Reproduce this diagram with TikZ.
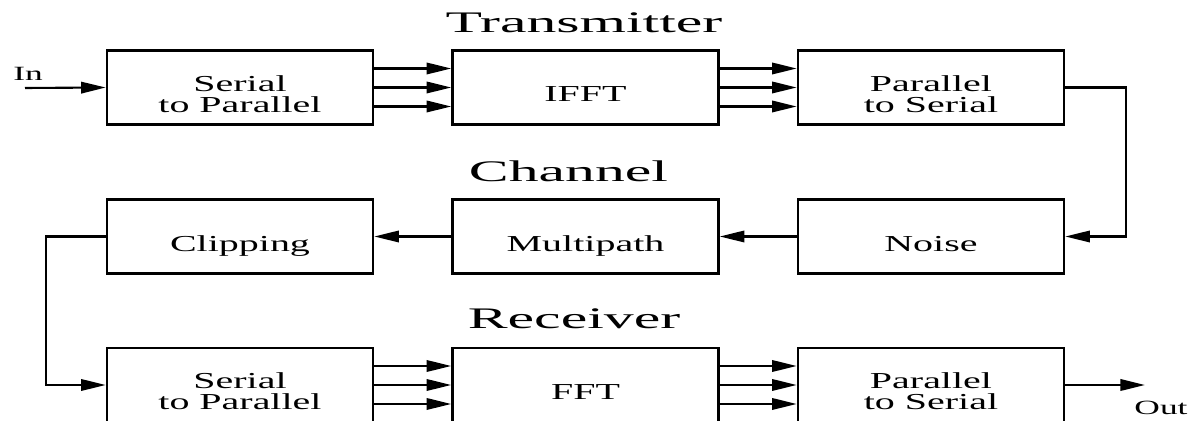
\documentclass[tikz,border=0pt]{standalone}
\usepackage{fontspec}
\setmainfont{Liberation Serif}[FakeStretch=1.75]
\newfontfamily\headfont{Liberation Serif}[FakeStretch=2.0]
\usetikzlibrary{arrows.meta}

\begin{document}
\begin{tikzpicture}[
  x=0.02cm, y=-0.02cm,
  block/.style={rectangle, draw, line width=1.5pt, minimum width=5.32cm, minimum height=1.48cm},
  blocktext/.style={align=center, text depth=0pt, inner sep=0pt, font=\fontsize{13}{12}\selectfont},
  wire/.style={-{Triangle[length=14pt, width=6.5pt]}, line width=1.2pt},
  title/.style={anchor=base, inner sep=0pt, font=\headfont\fontsize{17}{20}\selectfont},
  tag/.style={anchor=base, inner sep=0pt, font=\fontsize{11.5}{14}\selectfont}
]
\useasboundingbox (0,0) rectangle (1197,421);

% Transmitter row
\node[title] (ttx) at (584,33) {Transmitter};
\node[block] (sp1) at (240,87.5) {};
\node[block] (ifft) at (585.5,87.5) {};
\node[block] (ps1) at (931,87.5) {};

% Channel row
\node[title] (tch) at (568.5,182) {Channel};
\node[block] (clip) at (240,236.5) {};
\node[block] (mp) at (585.5,236.5) {};
\node[block] (noise) at (931,236.5) {};

% Receiver row
\node[title] (trx) at (574,329) {Receiver};
\node[block] (sp2) at (240,385) {};
\node[block] (fft) at (585.5,385) {};
\node[block] (ps2) at (931,385) {};

% Block texts, a bit below the box centres
\node[blocktext] (sp1t) at ([yshift=-0.13cm]sp1.center) {Serial\\to Parallel};
\node[blocktext] (ifftt) at ([yshift=-0.14cm]ifft.center) {IFFT};
\node[blocktext] (ps1t) at ([yshift=-0.13cm]ps1.center) {Parallel\\to Serial};
\node[blocktext] (clipt) at ([yshift=-0.14cm]clip.center) {Clipping};
\node[blocktext] (mpt) at ([yshift=-0.14cm]mp.center) {Multipath};
\node[blocktext] (noiset) at ([yshift=-0.14cm]noise.center) {Noise};
\node[blocktext] (sp2t) at ([yshift=-0.13cm]sp2.center) {Serial\\to Parallel};
\node[blocktext] (fftt) at ([yshift=-0.14cm]fft.center) {FFT};
\node[blocktext] (ps2t) at ([yshift=-0.13cm]ps2.center) {Parallel\\to Serial};

% Input and output
\coordinate (in) at (25,88);
\coordinate (out) at (1145,385);
\node[tag] (inlbl) at (28,81) {In};
\node[tag] (outlbl) at (1161,415) {Out};

% Wires
\draw[wire] (in) -- (sp1.west);
\foreach \dy in {-0.38cm, 0cm, 0.38cm} {
  \draw[wire] ([yshift=\dy]sp1.east) -- ([yshift=\dy]ifft.west);
  \draw[wire] ([yshift=\dy]ifft.east) -- ([yshift=\dy]ps1.west);
  \draw[wire] ([yshift=\dy]sp2.east) -- ([yshift=\dy]fft.west);
  \draw[wire] ([yshift=\dy]fft.east) -- ([yshift=\dy]ps2.west);
}
\draw[wire] (ps1.east) -- ++(61,0) |- (noise.east);
\draw[wire] (noise) -- (mp);
\draw[wire] (mp) -- (clip);
\draw[wire] (clip.west) -- ++(-60,0) |- (sp2.west);
\draw[wire] (ps2.east) -- (out);

\end{tikzpicture}
\end{document}
